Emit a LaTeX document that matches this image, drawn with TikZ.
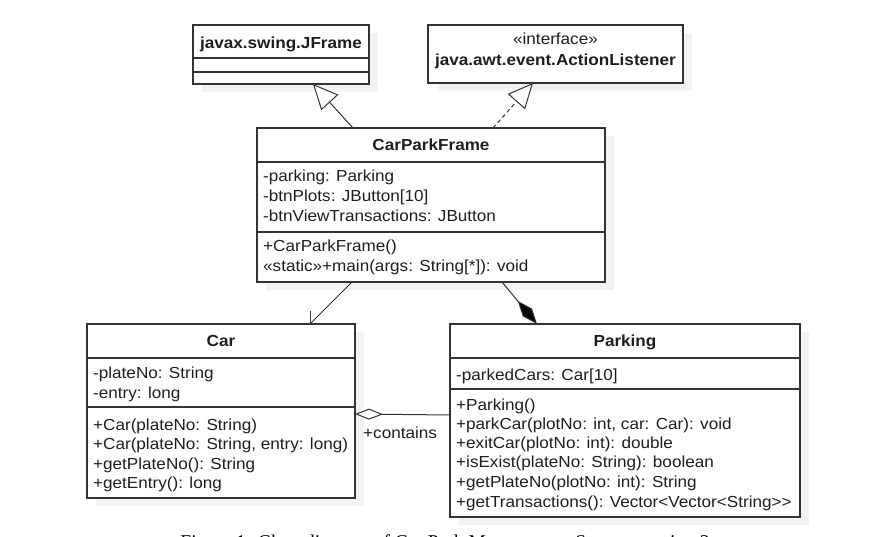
\documentclass[tikz,border=0pt]{standalone}
\usepackage{fontspec}
\setmainfont{Liberation Sans}[FakeStretch=1.07]
\newfontfamily\capfont{Liberation Serif}
\usetikzlibrary{arrows.meta,calc}

\definecolor{ink}{HTML}{1E1E1E}
\definecolor{edgec}{HTML}{333333}
\definecolor{shade}{HTML}{F2F2F2}

\tikzset{
  classbox/.style={draw=edgec, line width=1.3pt, fill=white, rectangle, anchor=north west, inner sep=0pt, outer sep=0pt},
  shadowfill/.style={fill=shade, draw=none},
  divider/.style={draw=edgec, line width=1.3pt},
  cname/.style={font=\fontsize{16}{19}\selectfont\bfseries, text=ink, anchor=base, inner sep=0pt},
  stereo/.style={font=\fontsize{16}{19}\selectfont, text=ink, anchor=base, inner sep=0pt},
  member/.style={font=\fontsize{16}{19}\selectfont, text=ink, anchor=base west, inner sep=0pt},
  conn/.style={draw=edgec, line width=1pt},
  gen/.style={conn, -{Triangle[open, length=25pt, width=23pt, fill=white]}},
  real/.style={conn, dash pattern=on 4pt off 3pt, -{Triangle[open, length=25pt, width=23pt, fill=white]}},
  assoc/.style={conn, -{Straight Barb[angle=90:12pt, line width=1pt]}},
  comp/.style={conn, -{Diamond[length=30pt, width=12pt, fill=black]}},
  agg/.style={conn, -{Diamond[open, length=28pt, width=11pt, fill=white]}},
}

\begin{document}
\begin{tikzpicture}[x=1pt, y=-1pt]
\useasboundingbox (0,0) rectangle (873,537);

% shadows
\fill[shadowfill] (202,33) rectangle (378,92);
\fill[shadowfill] (437,33) rectangle (692,91);
\fill[shadowfill] (266,136) rectangle (614,290);
\fill[shadowfill] (96,332) rectangle (364,506);
\fill[shadowfill] (459,332) rectangle (809,525);

% JFrame
\node[classbox, minimum width=176pt, minimum height=59pt] (jframe) at (193,25) {};
\draw[divider] (193,58) -- (369,58);
\draw[divider] (193,72) -- (369,72);
\node[cname] (jframename) at (281,49) {javax.swing.JFrame};

% ActionListener
\node[classbox, minimum width=255pt, minimum height=58pt] (al) at (428,25) {};
\node[stereo] (alstereo) at (555.5,45) {«interface»};
\node[cname] (alname) at (555.5,66) {java.awt.event.ActionListener};

% CarParkFrame
\node[classbox, minimum width=348pt, minimum height=154pt] (cpf) at (257,128) {};
\draw[divider] (257,162) -- (605,162);
\draw[divider] (257,232) -- (605,232);
\node[cname] (cpfname) at (431,151) {CarParkFrame};
\node[member] (cpfa1) at (263,182) {-parking: Parking};
\node[member] (cpfa2) at (263,202) {-btnPlots: JButton[10]};
\node[member] (cpfa3) at (263,222) {-btnViewTransactions: JButton};
\node[member] (cpfm1) at (263,252) {+CarParkFrame()};
\node[member] (cpfm2) at (263,272) {«static»+main(args: String[*]): void};

% Car
\node[classbox, minimum width=268pt, minimum height=174pt] (car) at (87,324) {};
\draw[divider] (87,358) -- (355,358);
\draw[divider] (87,407) -- (355,407);
\node[cname] (carname) at (221,347) {Car};
\node[member] (cara1) at (93,378) {-plateNo: String};
\node[member] (cara2) at (93,398) {-entry: long};
\node[member] (carm1) at (93,430) {+Car(plateNo: String)};
\node[member] (carm2) at (93,449.5) {+Car(plateNo: String, entry: long)};
\node[member] (carm3) at (93,469) {+getPlateNo(): String};
\node[member] (carm4) at (93,488) {+getEntry(): long};

% Parking
\node[classbox, minimum width=350pt, minimum height=193pt] (parking) at (450,324) {};
\draw[divider] (450,358) -- (800,358);
\draw[divider] (450,389) -- (800,389);
\node[cname] (parkname) at (625,347) {Parking};
\node[member] (parka1) at (456,380) {-parkedCars: Car[10]};
\node[member] (parkm1) at (456,410) {+Parking()};
\node[member] (parkm2) at (456,429) {+parkCar(plotNo: int, car: Car): void};
\node[member] (parkm3) at (456,448) {+exitCar(plotNo: int): double};
\node[member] (parkm4) at (456,467.5) {+isExist(plateNo: String): boolean};
\node[member] (parkm5) at (456,487) {+getPlateNo(plotNo: int): String};
\node[member] (parkm6) at (456,507) {+getTransactions(): Vector<Vector<String>{}>};

% connectors
\draw[gen] ([xshift=96pt]cpf.north west) -- ([xshift=120pt]jframe.south west);
\draw[real] ([xshift=236pt]cpf.north west) -- ([xshift=105pt]al.south west);
\draw[assoc] ([xshift=95pt]cpf.south west) -- ([xshift=223pt]car.north west);
\draw[comp] ([xshift=245pt]cpf.south west) -- ([xshift=87pt]parking.north west);
\draw[agg] ([yshift=5.5pt]parking.west) -- ([yshift=-3pt]car.east);
\node[member] (contains) at (363,438) {+contains};

% caption (cut by the lower edge, as in the reference)
\node[font=\capfont\fontsize{19.5}{22}\selectfont, anchor=base, inner sep=0pt, text=black] (caption) at (445,548) {Figure 1: Class diagram of Car Park Management System version 2};
\end{tikzpicture}
\end{document}
